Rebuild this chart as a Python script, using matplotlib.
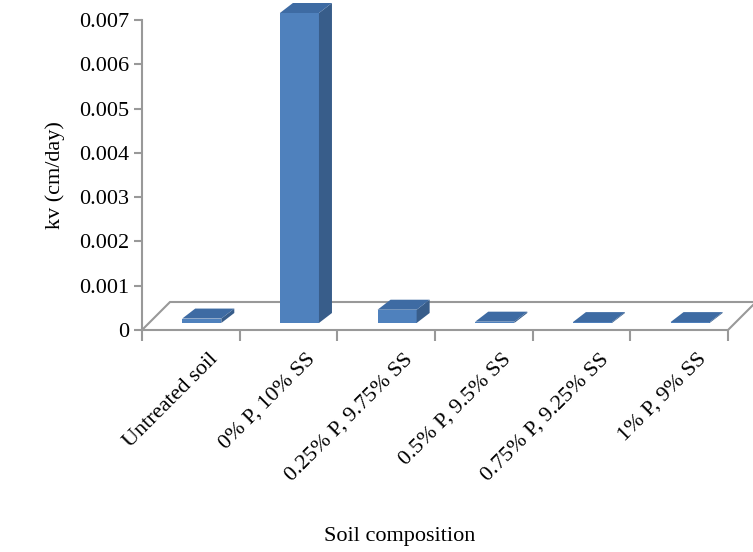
import matplotlib
matplotlib.use('Agg')
import matplotlib.pyplot as plt
from matplotlib.patches import Polygon

plt.rcParams['font.family'] = 'Liberation Serif'

categories = ['Untreated soil', '0% P, 10% SS', '0.25% P, 9.75% SS',
              '0.5% P, 9.5% SS', '0.75% P, 9.25% SS', '1% P, 9% SS']
kv = [0.0001, 0.007, 0.0003, 0.00003, 0.00002, 0.00002]

W, H = 753, 552
fig = plt.figure(figsize=(W / 100, H / 100), dpi=100)
x0, x1, yb, yt = 142, 728, 330, 20
ax = fig.add_axes([x0 / W, 1 - yb / H, (x1 - x0) / W, (yb - yt) / H])
ax.set_xlim(0, 6)
ax.set_ylim(0, 0.007)

# pixel -> data unit helpers
px_x = 6 / (x1 - x0)
px_y = 0.007 / (yb - yt)

# floor
fdx, fdy = 28 * px_x, 28 * px_y
floor = Polygon([(0, 0), (6, 0), (6 + fdx, fdy), (fdx, fdy)], closed=True,
                facecolor='none', edgecolor='#999999', lw=1.5, clip_on=False)
ax.add_patch(floor)

front, side, top = '#4F81BD', '#385D8A', '#3E6BA3'
ox, oy = 8 * px_x, 7 * px_y     # bar placement inside depth
ddx, ddy = 13 * px_x, 10 * px_y  # bar depth
bw = 0.4
for i, v in enumerate(kv):
    l = i + 0.33 + ox
    r = l + bw
    b = oy
    t = oy + v
    ax.add_patch(Polygon([(l, b), (r, b), (r, t), (l, t)], facecolor=front,
                         edgecolor='none', clip_on=False, zorder=3))
    ax.add_patch(Polygon([(r, b), (r + ddx, b + ddy), (r + ddx, t + ddy), (r, t)],
                         facecolor=side, edgecolor='none', clip_on=False, zorder=3))
    ax.add_patch(Polygon([(l, t), (r, t), (r + ddx, t + ddy), (l + ddx, t + ddy)],
                         facecolor=top, edgecolor='none', clip_on=False, zorder=3))

for s in ['top', 'right', 'bottom']:
    ax.spines[s].set_visible(False)
ax.spines['left'].set_color('#999999')
ax.spines['left'].set_linewidth(1.5)

ax.set_yticks([i * 0.001 for i in range(8)])
ax.set_yticklabels(['0'] + ['%.3f' % (i * 0.001) for i in range(1, 8)], fontsize=16)
ax.tick_params(axis='y', color='#999999', length=6, width=1.5)
ax.set_xticks(range(7))
ax.set_xticklabels([''] * 7)
ax.tick_params(axis='x', color='#999999', length=8, width=1.5)

for i, c in enumerate(categories):
    ax.text(i + 0.68, -0.00045, c, rotation=45, ha='right', va='top',
            fontsize=16, rotation_mode='anchor')

ax.set_ylabel('kv (cm/day)', fontsize=16, labelpad=10)
fig.text(400 / W, 1 - 537 / H, 'Soil composition', ha='center', va='center', fontsize=16)

fig.savefig('out.png', dpi=100)
